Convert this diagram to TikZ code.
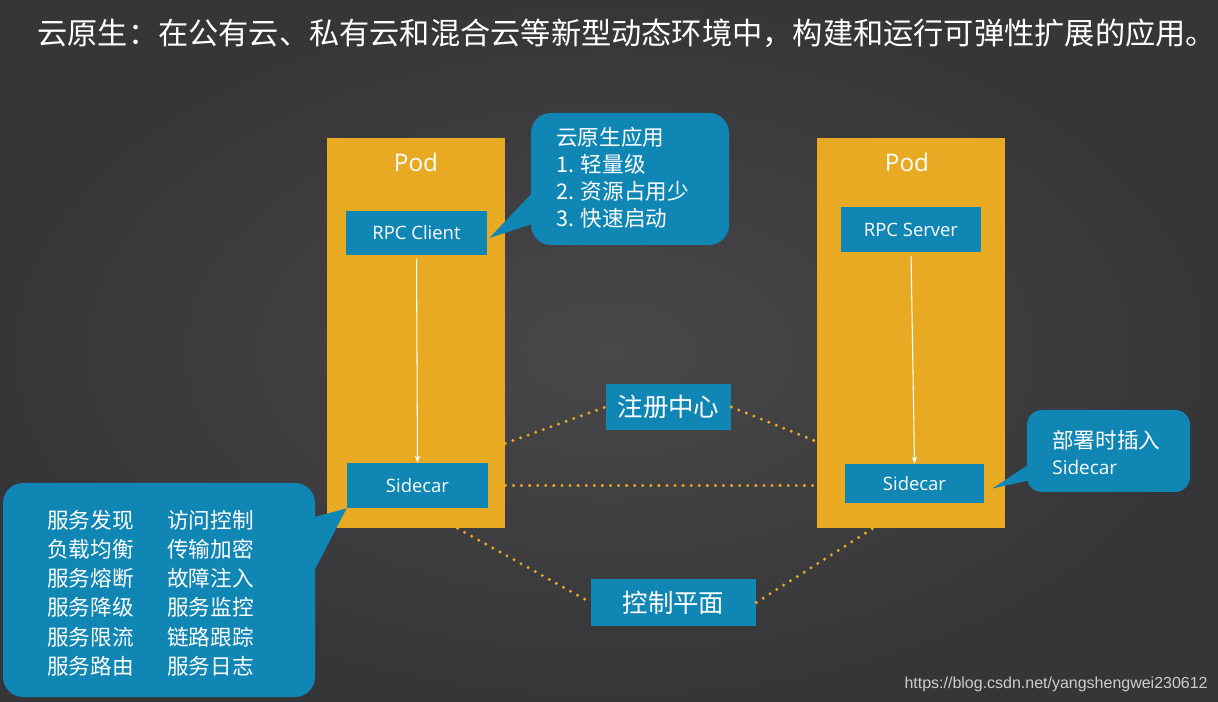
\documentclass[tikz,border=0pt]{standalone}
\usepackage{fontspec}
\setmainfont{Noto Sans CJK SC}
\newfontfamily\lat{Open Sans}
\newfontfamily\web{Liberation Sans}
\usetikzlibrary{calc,arrows.meta}

\definecolor{bgin}{RGB}{72,72,74}
\definecolor{bgout}{RGB}{54,54,56}
\definecolor{podc}{RGB}{232,170,35}
\definecolor{boxc}{RGB}{16,134,181}
\definecolor{webc}{RGB}{205,205,205}

\tikzset{
	pod/.style={fill=podc, inner sep=0pt},
	podlbl/.style={text=white, font=\lat\fontsize{13.8}{16}\selectfont},
	blk/.style={fill=boxc, inner sep=0pt, text=white, font=\lat\fontsize{10.5}{13}\selectfont},
	hub/.style={blk, font=\fontsize{14.5}{17}\selectfont},
	note/.style={fill=boxc, inner sep=0pt, rounded corners=0.4cm},
	notetxt/.style={anchor=west, text=white, inner sep=0pt, font=\fontsize{12.3}{15}\selectfont},
	dots/.style={podc, line width=1.9pt, line cap=round, dash pattern=on 0pt off 4.6pt},
	flow/.style={white, line width=0.6pt, shorten <=2pt, -{Stealth[length=4pt,width=3pt]}},
}

\begin{document}
\begin{tikzpicture}[x=0.02cm, y=-0.02cm]
	\def\pxu{0.02cm}
	\useasboundingbox (0,0) rectangle (1218,702);
	\shade[inner color=bgin, outer color=bgout] (0,0) rectangle (1218,702);

	\node[anchor=west, inner sep=0pt, text=white, font=\fontsize{17.2}{20}\selectfont] (title) at (37,33)
		{云原生：在公有云、私有云和混合云等新型动态环境中，构建和运行可弹性扩展的应用。};

	% pods
	\node[pod, minimum width={178*\pxu}, minimum height={390*\pxu}] (lpod) at (416,333) {};
	\node[pod, minimum width={188*\pxu}, minimum height={390*\pxu}] (rpod) at (911,333) {};
	\node[podlbl] (lpodt) at (416,162) {Pod};
	\node[podlbl] (rpodt) at (907,162) {Pod};

	\node[blk, minimum width={141*\pxu}, minimum height={44*\pxu}] (cli) at (416.5,233) {RPC Client};
	\node[blk, minimum width={141*\pxu}, minimum height={45*\pxu}] (lsc) at (417.5,485.5) {Sidecar};
	\node[blk, minimum width={140*\pxu}, minimum height={45*\pxu}] (srv) at (911,229.5) {RPC Server};
	\node[blk, minimum width={139*\pxu}, minimum height={39*\pxu}] (rsc) at (914.5,483.5) {Sidecar};

	\draw[flow] (cli.south) -- (lsc.north);
	\draw[flow] (srv.south) -- (rsc.north);

	% control side
	\node[hub, minimum width={125*\pxu}, minimum height={46*\pxu}] (reg) at (668.5,407) {注册中心};
	\node[hub, minimum width={165*\pxu}, minimum height={47*\pxu}] (ctl) at (673.5,602.5) {控制平面};

	\draw[dots] (lpod.-51) -- (reg.west);
	\draw[dots] (reg.east) -- (rpod.229);
	\draw[dots] (lpod.east |- lsc.east) -- (rpod.west |- lsc.east);
	\draw[dots] (lpod.-78) -- (ctl.west);
	\draw[dots] (ctl.east) -- (rpod.259);

	% callouts
	\node[note, minimum width={198*\pxu}, minimum height={132*\pxu}] (n1) at (630,179) {};
	\fill[boxc] (535,190) -- ([shift={(2,5)}]cli.east) -- (535,223) -- cycle;
	\foreach \t [count=\i] in {云原生应用, 1. 轻量级, 2. 资源占用少, 3. 快速启动}{
		\node[notetxt] at (556,{110+27*\i}) {\t};
	}

	\node[note, rounded corners=0.3cm, minimum width={163*\pxu}, minimum height={82*\pxu}] (n2) at (1108.5,451) {};
	\fill[boxc] (1031,463) -- ([shift={(8,5)}]rsc.east) -- (1031,480) -- cycle;
	\node[notetxt] at (1052,440) {部署时插入};
	\node[notetxt, font=\lat\fontsize{10.8}{13}\selectfont] at (1052,467) {Sidecar};

	\node[note, minimum width={312*\pxu}, minimum height={214*\pxu}] (n3) at (159,590) {};
	\fill[boxc] (311,518) -- (lsc.south west) -- (311,577) -- cycle;
	\foreach \a/\b [count=\i] in {服务发现/访问控制, 负载均衡/传输加密, 服务熔断/故障注入,
		服务降级/服务监控, 服务限流/链路跟踪, 服务路由/服务日志}{
		\node[notetxt] at (47,{490.8+29.2*\i}) {\a};
		\node[notetxt] at (167,{490.8+29.2*\i}) {\b};
	}

	\node[anchor=east, inner sep=0pt, text=webc, font=\web\fontsize{9.1}{11}\selectfont] (url) at (1208,684)
		{https://blog.csdn.net/yangshengwei230612};
\end{tikzpicture}
\end{document}
